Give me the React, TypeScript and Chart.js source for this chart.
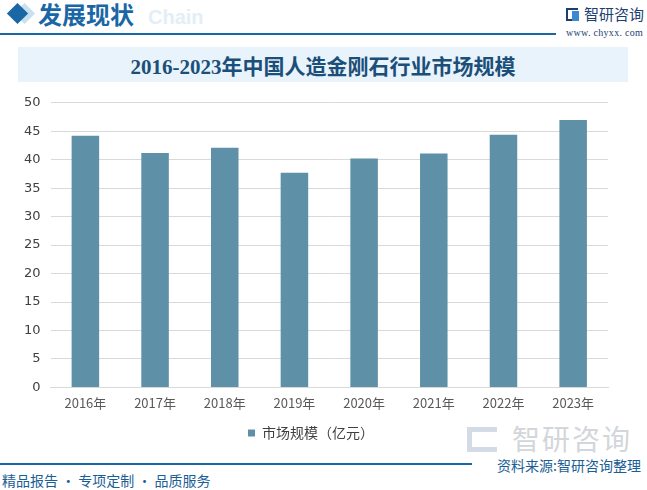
import React, { useEffect, useRef } from "react";
import { Chart, registerables } from "chart.js";

Chart.register(...registerables);

const categories = ["2016年", "2017年", "2018年", "2019年", "2020年", "2021年", "2022年", "2023年"];
const marketSize = [44.2, 41.2, 42.1, 37.7, 40.2, 41.1, 44.4, 47.0];
const seriesName = "市场规模（亿元）";
const yTicksMax = 50;
const yTickStep = 5;
const chartTitle = "2016-2023年中国人造金刚石行业市场规模";

const CJK = '"Noto Sans CJK SC", "Noto Sans", sans-serif';

export default function App() {
  const ref = useRef<HTMLCanvasElement | null>(null);

  useEffect(() => {
    if (!ref.current) return;
    const chart = new Chart(ref.current, {
      type: "bar",
      data: {
        labels: categories,
        datasets: [
          {
            label: seriesName,
            data: marketSize,
            backgroundColor: "#5e91a7",
            borderWidth: 0,
            barPercentage: 0.79,
            categoryPercentage: 0.5,
          },
        ],
      },
      options: {
        animation: false,
        responsive: false,
        maintainAspectRatio: false,
        layout: { padding: { left: 14, right: 39, top: 3, bottom: 4 } },
        plugins: {
          title: { display: false },
          tooltip: { enabled: false },
          legend: {
            display: true,
            position: "bottom",
            labels: {
              boxWidth: 7,
              boxHeight: 7,
              padding: 7,
              color: "#404040",
              font: { size: 14, family: CJK },
            },
          },
        },
        scales: {
          x: {
            grid: { display: false, drawTicks: false },
            border: { display: true, color: "#d9d9d9", width: 1 },
            ticks: {
              color: "#595959",
              font: { size: 13, family: CJK },
              padding: 8,
              maxRotation: 0,
            },
          },
          y: {
            min: 0,
            max: yTicksMax,
            grid: { color: "#d9d9d9", drawTicks: false, lineWidth: 1 },
            border: { display: false },
            ticks: {
              stepSize: yTickStep,
              color: "#404040",
              font: { size: 13, family: '"DejaVu Sans", sans-serif' },
              padding: 10,
            },
          },
        },
      },
    });
    return () => chart.destroy();
  }, []);

  return (
    <div
      style={{
        position: "fixed",
        left: 0,
        top: 0,
        width: 647,
        height: 490,
        background: "#ffffff",
        overflow: "hidden",
        fontFamily: CJK,
      }}
    >
      {/* header icon */}
      <div style={{ position: "absolute", left: 17, top: 6, width: 15, height: 15, background: "#c9e0ef", transform: "rotate(45deg)" }} />
      <div style={{ position: "absolute", left: 10, top: 6, width: 15, height: 15, background: "#1a67a5", transform: "rotate(45deg)" }} />
      <div style={{ position: "absolute", left: 148, top: 6, fontSize: 20, fontWeight: 700, color: "#e3eef7", fontFamily: '"Liberation Sans", sans-serif' }}>Chain</div>
      <div style={{ position: "absolute", left: 38, top: -1, fontSize: 24, fontWeight: 700, color: "#1a67a5", lineHeight: "30px" }}>发展现状</div>
      <div style={{ position: "absolute", left: 0, top: 33, width: 556, height: 2, background: "#1a67a5" }} />
      {/* logo top right */}
      <div style={{ position: "absolute", left: 566, top: 8, width: 12, height: 13, border: "2px solid #1c3f73", borderRight: "none", boxSizing: "border-box" }} />
      <div style={{ position: "absolute", left: 572, top: 11, width: 7, height: 10, background: "#3b8ad0" }} />
      <div style={{ position: "absolute", left: 584, top: 3, fontSize: 15, color: "#1c3f73", lineHeight: "22px" }}>智研咨询</div>
      <div style={{ position: "absolute", left: 566, top: 27, fontSize: 10, color: "#1c3f73", fontFamily: '"Liberation Serif", serif', letterSpacing: 0.3 }}>www. chyxx. com</div>
      {/* title box */}
      <div
        style={{
          position: "absolute",
          left: 18,
          top: 47,
          width: 610,
          height: 35,
          background: "#e8f3fb",
          display: "flex",
          alignItems: "center",
          justifyContent: "center",
          fontSize: 21,
          fontWeight: 700,
          color: "#1b4f79",
          fontFamily: '"Liberation Serif", "Noto Sans CJK SC", serif',
        }}
      >
        {chartTitle}
      </div>
      {/* faint watermark logo bottom right */}
      <div style={{ position: "absolute", left: 512, top: 421, fontSize: 28, color: "#d3d6da", lineHeight: "34px", letterSpacing: 2 }}>智研咨询</div>
      <div style={{ position: "absolute", left: 467, top: 427, width: 30, height: 25, border: "5px solid #d3dbe6", borderRight: "none", boxSizing: "border-box" }} />
      {/* chart */}
      <canvas ref={ref} width={647} height={369} style={{ position: "absolute", left: 0, top: 85, width: 647, height: 369 }} />
      {/* footer */}
      <div style={{ position: "absolute", left: 0, top: 463, width: 472, height: 2, background: "#1a67a5" }} />
      <div style={{ position: "absolute", left: 497, top: 455, fontSize: 14, color: "#1a5e96", lineHeight: "20px" }}>资料来源:智研咨询整理</div>
      <div style={{ position: "absolute", left: 2, top: 470, fontSize: 14, color: "#1a5e96", lineHeight: "20px" }}>精品报告 · 专项定制 · 品质服务</div>
    </div>
  );
}
